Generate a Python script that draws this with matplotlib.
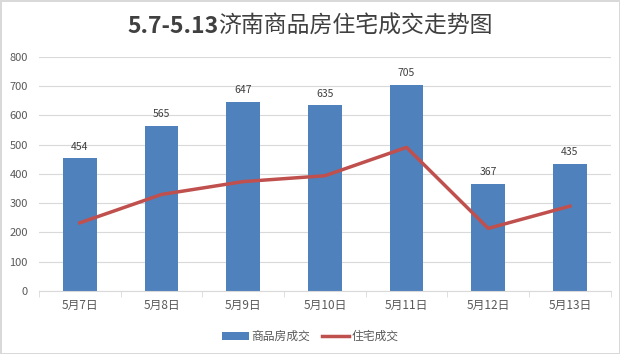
import matplotlib.pyplot as plt
import numpy as np

plt.rcParams['font.family'] = ['Noto Sans CJK SC', 'DejaVu Sans']

# data
dates = ["5月7日", "5月8日", "5月9日", "5月10日", "5月11日", "5月12日", "5月13日"]
commercial = [454, 565, 647, 635, 705, 367, 435]
residential = [233, 330, 374, 394, 491, 214, 290]

fig = plt.figure(figsize=(6.2, 3.54), dpi=100)
fig.patch.set_edgecolor("#d9d9d9")
fig.patch.set_linewidth(2)
ax = fig.add_axes([0.063, 0.178, 0.922, 0.661])

x = np.arange(len(dates))
bars = ax.bar(x, commercial, width=0.41, color="#4F81BD", label="商品房成交", zorder=2)
line, = ax.plot(x, residential, color="#C0504D", linewidth=2.5, label="住宅成交", zorder=3)

for xi, v in zip(x, commercial):
    ax.text(xi, v + 22, str(v), ha="center", va="bottom", fontsize=7.5, color="#404040")

ax.set_xlim(-0.5, len(dates) - 0.5)
ax.set_ylim(0, 800)
ax.set_yticks(range(0, 801, 100))
ax.set_xticks(x)
ax.set_xticklabels(dates)
ax.set_xticks(np.arange(-0.5, len(dates), 1), minor=True)
ax.tick_params(axis="x", which="major", length=0, labelsize=8.5, colors="#595959", pad=6)
ax.tick_params(axis="x", which="minor", length=4, color="#d9d9d9")
ax.tick_params(axis="y", length=0, labelsize=8, colors="#595959", pad=8)
ax.grid(axis="y", color="#d9d9d9", linewidth=0.8, zorder=0)
for s in ["top", "right", "left"]:
    ax.spines[s].set_visible(False)
ax.spines["bottom"].set_color("#d9d9d9")

# title: bold dates, regular chinese
fig.canvas.draw()
r = fig.canvas.get_renderer()
t1 = fig.text(0, 0.925, "5.7-5.13", ha="left", va="center", fontsize=16.5,
              color="#404040", fontweight="bold")
t2 = fig.text(0, 0.925, "济南商品房住宅成交走势图", ha="left", va="center", fontsize=16.5,
              color="#404040")
w1 = t1.get_window_extent(r).width / fig.bbox.width
w2 = t2.get_window_extent(r).width / fig.bbox.width
x0 = 0.5 - (w1 + w2) / 2
t1.set_x(x0)
t2.set_x(x0 + w1)

fig.legend([bars, line], ["商品房成交", "住宅成交"], loc="upper center",
           bbox_to_anchor=(0.5, 0.098), ncol=2, frameon=False,
           fontsize=8.5, handlelength=2.3, columnspacing=1.0, handletextpad=0.2,
           labelcolor="#595959")

fig.savefig("out.png", dpi=100, edgecolor=fig.get_edgecolor())
